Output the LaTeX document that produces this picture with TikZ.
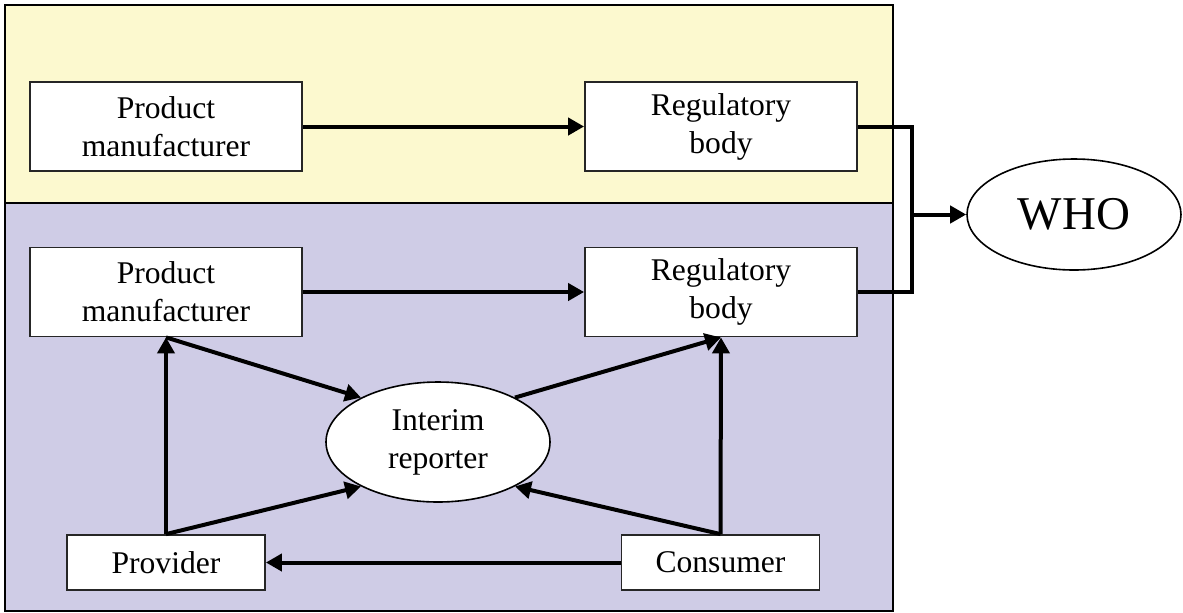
\documentclass[tikz,border=0pt]{standalone}
\usepackage{fontspec}
\setmainfont{Liberation Serif}
\usetikzlibrary{arrows.meta,shapes.geometric}
\definecolor{paleyellow}{RGB}{252,249,207}
\definecolor{palelilac}{RGB}{207,204,230}

\begin{document}
\begin{tikzpicture}[x=0.5pt,y=-0.5pt]
  \useasboundingbox (0,0) rectangle (1183,612);
  \tikzset{
    panel/.style={draw=black,line width=1.4pt},
    box/.style={draw=black!85,line width=0.9pt,fill=white,align=center,inner sep=0pt,
      font=\fontsize{15.8}{19}\selectfont,minimum width=136pt,minimum height=44.5pt},
    smallbox/.style={box,minimum width=99pt,minimum height=27.5pt},
    oval/.style={ellipse,draw=black,line width=0.8pt,fill=white,align=center,inner sep=0pt},
    link/.style={draw=black,line width=2pt},
    flow/.style={link,-{Triangle[length=8pt,width=8.5pt]}}
  }
  \fill[paleyellow] (5,5) rectangle (893,203);
  \fill[palelilac] (5,203) rectangle (893,611);
  \draw[panel] (5,5) rectangle (893,611);
  \draw[panel] (5,203) -- (893,203);

  % upper panel
  \node[box] (pm1) at (166,126.5) {Product\\manufacturer};
  \node[box] (rb1) at (721,126.5) {Regulatory\\body};
  % lower panel
  \node[box] (pm2) at (166,292) {Product\\manufacturer};
  \node[box] (rb2) at (721,292) {Regulatory\\body};
  \node[oval,minimum width=112pt,minimum height=60pt,
        font=\fontsize{15.8}{19}\selectfont] (ir) at (438,442) {Interim\\reporter};
  \node[smallbox] (pv) at (166,562.5) {Provider};
  \node[smallbox] (cs) at (720.5,562.5) {Consumer};
  % outside the panels
  \node[oval,minimum width=107pt,minimum height=55.5pt,
        font=\fontsize{23.5}{26}\selectfont] (who) at (1074,214.5) {WHO};
  \coordinate (jn) at (912,214.5);

  \draw[flow] (pm1) -- (rb1);
  \draw[flow] (pm2) -- (rb2);
  \draw[link] (rb1.east) -| (jn) |- (rb2.east);
  \draw[flow] (jn) -- (who);
  \draw[flow] (pv.north) -- (pm2.south);
  \draw[flow] (cs.north) -- (rb2.south);
  \draw[flow] (pm2.south) -- (ir.150);
  \draw[flow] (pv.north) -- (ir.210);
  \draw[flow] (cs.north) -- (ir.330);
  \draw[flow] (ir.30) -- (rb2.south);
  \draw[flow] (cs) -- (pv);
\end{tikzpicture}
\end{document}
